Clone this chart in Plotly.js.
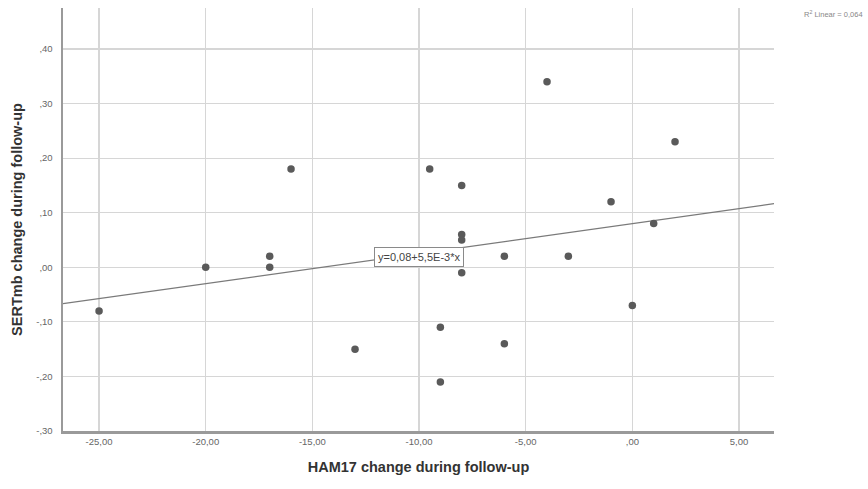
<!DOCTYPE html>
<html>
<head>
<meta charset="utf-8">
<script src="https://cdn.plot.ly/plotly-3.0.1.min.js"></script>
<style>
html,body{margin:0;padding:0;background:#fff;}
#chart{width:868px;height:489px;}
</style>
</head>
<body>
<div id="chart"></div>
<script>
// HAM17 change during follow-up (x) vs SERTmb change during follow-up (y)
var ham17Change = [-25, -20, -17, -17, -16, -13, -9.5, -9, -9, -8, -8, -8, -8, -6, -6, -4, -3, -1, 0, 1, 2];
var sertmbChange = [-0.08, 0.00, 0.02, 0.00, 0.18, -0.15, 0.18, -0.11, -0.21, 0.15, 0.06, 0.05, -0.01, 0.02, -0.14, 0.34, 0.02, 0.12, -0.07, 0.08, 0.23];

// Linear fit as printed on the chart
var fitIntercept = 0.08;
var fitSlope = 0.0055;
var fitLabel = "y=0,08+5,5E-3*x";
var r2Label = "R<sup>2</sup> Linear = 0,064";

var xTickVals = [-25, -20, -15, -10, -5, 0, 5];
var xTickText = ["-25,00", "-20,00", "-15,00", "-10,00", "-5,00", ",00", "5,00"];
var yTickVals = [-0.30, -0.20, -0.10, 0.00, 0.10, 0.20, 0.30, 0.40];
var yTickText = ["-,30", "-,20", "-,10", ",00", ",10", ",20", ",30", ",40"];

var xRange = [-26.69, 6.64];
var yRange = [-0.30, 0.475];

var fitX = [xRange[0], xRange[1]];
var fitY = fitX.map(function (x) { return fitIntercept + fitSlope * x; });

var labelX = -10;
var labelY = fitIntercept + fitSlope * labelX;

var traces = [
  {
    x: fitX, y: fitY, mode: "lines", type: "scatter",
    line: {color: "#7a7a7a", width: 1.2},
    hoverinfo: "skip", showlegend: false
  },
  {
    x: ham17Change, y: sertmbChange, mode: "markers", type: "scatter",
    marker: {color: "#5a5a5a", size: 7.5, line: {width: 0}},
    showlegend: false
  }
];

var layout = {
  width: 868, height: 489,
  margin: {l: 63, r: 94, t: 8, b: 58},
  paper_bgcolor: "#ffffff",
  plot_bgcolor: "#ffffff",
  font: {family: "Liberation Sans, Arial, sans-serif", color: "#555"},
  showlegend: false,
  xaxis: {
    range: xRange, tickvals: xTickVals, ticktext: xTickText,
    showgrid: true, gridcolor: "#d6d6d6", gridwidth: 1.2,
    zeroline: false,
    showline: true, linecolor: "#9a9a9a", linewidth: 2.5,
    ticks: "", tickfont: {size: 9.5, color: "#666"},
    title: {text: "<b>HAM17 change during follow-up</b>", font: {size: 14.5, color: "#333"}, standoff: 16}
  },
  yaxis: {
    range: yRange, tickvals: yTickVals, ticktext: yTickText,
    showgrid: true, gridcolor: "#d6d6d6", gridwidth: 1.2,
    zeroline: false,
    showline: true, linecolor: "#9a9a9a", linewidth: 2.5,
    ticks: "", tickfont: {size: 9.5, color: "#666"},
    ticklabelstandoff: 6,
    title: {text: "<b>SERTmb change during follow-up</b>", font: {size: 14.5, color: "#333"}, standoff: 10}
  },
  annotations: [
    {
      x: labelX, y: labelY, xref: "x", yref: "y",
      text: fitLabel, showarrow: false,
      font: {size: 11, color: "#444"},
      bgcolor: "#ffffff", bordercolor: "#8a8a8a", borderwidth: 1, borderpad: 3,
      yshift: -3
    },
    {
      x: 1.128, y: 0.985, xref: "paper", yref: "paper",
      xanchor: "right", yanchor: "middle",
      text: r2Label, showarrow: false,
      font: {size: 7.5, color: "#888"}
    }
  ]
};

Plotly.newPlot("chart", traces, layout, {displayModeBar: false, staticPlot: true});
</script>
</body>
</html>
